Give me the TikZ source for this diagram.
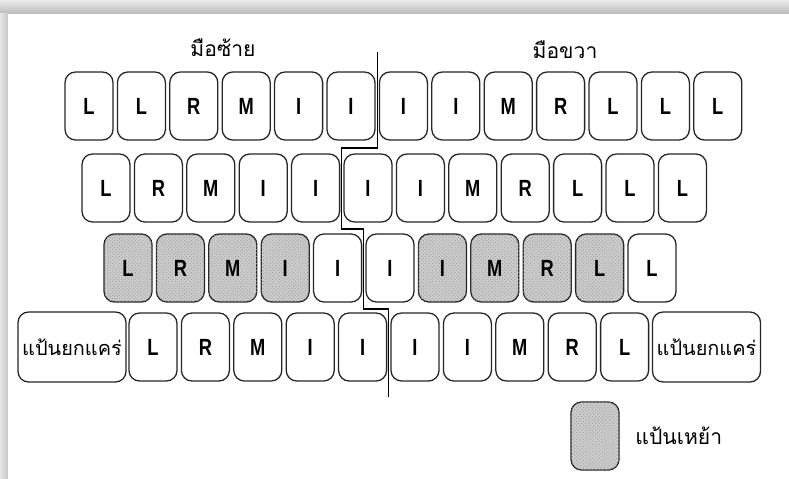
\documentclass[tikz,border=0pt]{standalone}
\usepackage{fontspec}
\newfontfamily\keyfont{Liberation Sans}[FakeStretch=0.78]
\newfontfamily\thaifont[Script=Thai]{Loma}
\usepackage{tikz}
\usetikzlibrary{calc, positioning, patterns}

\begin{document}
\begin{tikzpicture}[x=0.03cm, y=-0.03cm,
  key/.style={draw=black!85, line width=1.1pt, rounded corners=9pt, fill=white,
    inner sep=0pt, minimum width=1.44cm, minimum height=2.04cm,
    font=\keyfont\bfseries\fontsize{20}{22}\selectfont},
  homekey/.style={key, fill=gray!40,
    postaction={pattern=crosshatch dots, pattern color=gray!80}},
  widekey/.style={key, minimum width=3.24cm, minimum height=2.1cm,
    font=\thaifont\fontsize{17}{19}\selectfont},
  hand/.style={font=\thaifont\fontsize{18}{20}\selectfont},
  divider/.style={draw=black, line width=1.1pt}]
  % frame with shadow
  \useasboundingbox (0,0) rectangle (789,478);
  \shade[top color=gray!15, bottom color=gray!55] (0,0) rectangle (789,14);
  \shade[left color=gray!20, right color=gray!45] (0,14) rectangle (8,478);
  \fill[white] (8,14) rectangle (789,478);

  % hands
  \node[hand] (lefthand) at (223,48) {มือซ้าย};
  \node[hand] (righthand) at (565,50) {มือขวา};

  % row 1
  \foreach \t [count=\i from 0] in {L,L,R,M,I,I,I,I,M,R,L,L,L}
    \node[key] (r1-\i) at (89+52.4*\i,106) {\t};
  % row 2
  \foreach \t [count=\i from 0] in {L,R,M,I,I,I,I,M,R,L,L,L}
    \node[key] (r2-\i) at (106+52.4*\i,188) {\t};
  % row 3 (home row)
  \foreach \t/\s [count=\i from 0] in {L/homekey,R/homekey,M/homekey,I/homekey,
      I/key,I/key,I/homekey,M/homekey,R/homekey,L/homekey,L/key}
    \node[\s] (r3-\i) at (128+52.4*\i,268) {\t};
  % row 4
  \node[widekey] (shiftl) at (72,347) {แป้นยกแคร่};
  \foreach \t [count=\i from 0] in {L,R,M,I,I,I,I,M,R,L}
    \node[key] (r4-\i) at (153+52.4*\i,347) {\t};
  \node[widekey] (shiftr) at (706.5,347) {แป้นยกแคร่};

  % split between left and right hand
  \coordinate (d1) at ($(r1-5.east)!.5!(r1-6.west)$);
  \coordinate (d2) at ($(r2-4.east)!.5!(r2-5.west)$);
  \coordinate (d3) at ($(r3-4.east)!.5!(r3-5.west)$);
  \coordinate (d4) at ($(r4-4.east)!.5!(r4-5.west)$);
  \coordinate (ytop) at (0,52);
  \coordinate (y12) at (0,148);
  \coordinate (y23) at (0,229);
  \coordinate (y34) at (0,309);
  \coordinate (ybot) at (0,397);
  \draw[divider] (d1 |- ytop) -- (d1 |- y12) -- (d2 |- y12) -- (d2 |- y23)
    -- (d3 |- y23) -- (d3 |- y34) -- (d4 |- y34) -- (d4 |- ybot);

  % legend
  \node[homekey] (legkey) at (595,436) {};
  \node[hand, right=0.35cm of legkey] (legtext) {แป้นเหย้า};
\end{tikzpicture}
\end{document}
